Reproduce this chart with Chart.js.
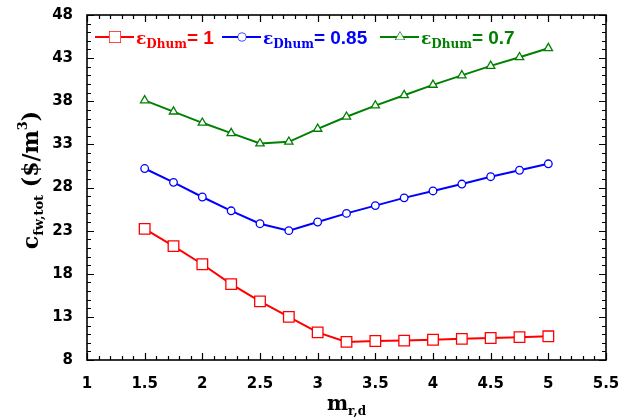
<!DOCTYPE html>
<html>
<head>
<meta charset="utf-8">
<script src="https://cdn.jsdelivr.net/npm/chart.js@4.4.1/dist/chart.umd.min.js"></script>
<style>
  html, body { margin: 0; padding: 0; background: #ffffff; }
  #wrap { width: 634px; height: 420px; }
</style>
</head>
<body>
<div id="wrap"><canvas id="chart" width="634" height="420"></canvas></div>
<script>
// Mass ratio m_r,d on the horizontal axis
const massRatio = [1.5, 1.75, 2.0, 2.25, 2.5, 2.75, 3.0, 3.25, 3.5, 3.75, 4.0, 4.25, 4.5, 4.75, 5.0];

// Total fresh-water cost c_fw,tot ($/m3) for each dehumidifier effectiveness
const costEff100 = [23.2, 21.2, 19.1, 16.8, 14.8, 13.0, 11.2, 10.1, 10.2, 10.25, 10.35, 10.45, 10.55, 10.65, 10.75];
const costEff085 = [30.2, 28.6, 26.9, 25.3, 23.8, 23.0, 24.0, 25.0, 25.9, 26.8, 27.6, 28.4, 29.25, 30.0, 30.75];
const costEff070 = [38.1, 36.8, 35.5, 34.3, 33.1, 33.3, 34.8, 36.2, 37.5, 38.7, 39.9, 41.0, 42.1, 43.1, 44.15];

const seriesLabels = ['1', '0.85', '0.7'];
const seriesColors = ['#ff0000', '#0000ff', '#008000'];
const seriesMarkers = ['rect', 'circle', 'triangle'];
const markerRadius = [7.5, 3.8, 4.8];

// Axis tick labels
const xTickValues = [1, 1.5, 2, 2.5, 3, 3.5, 4, 4.5, 5, 5.5];
const yTickValues = [8, 13, 18, 23, 28, 33, 38, 43, 48];

const seriesValues = [costEff100, costEff085, costEff070];

const datasets = seriesValues.map((vals, i) => ({
  label: seriesLabels[i],
  data: massRatio.map((x, k) => ({ x: x, y: vals[k] })),
  borderColor: seriesColors[i],
  borderWidth: 2,
  pointStyle: seriesMarkers[i],
  pointRadius: markerRadius[i],
  pointHoverRadius: markerRadius[i],
  pointBackgroundColor: '#ffffff',
  pointBorderColor: seriesColors[i],
  pointBorderWidth: 1.3,
  tension: 0,
  fill: false
}));

const tickFont = { family: 'DejaVu Sans', size: 15, weight: 'bold' };

// Frame, inward tick marks, axis titles and the legend
const decorations = {
  id: 'decorations',
  afterDraw(chart) {
    const ctx = chart.ctx;
    const a = chart.chartArea;
    const xs = chart.scales.x;
    const ys = chart.scales.y;
    ctx.save();
    ctx.strokeStyle = '#000000';
    ctx.lineWidth = 1.6;
    ctx.strokeRect(a.left, a.top, a.right - a.left, a.bottom - a.top);

    ctx.lineWidth = 1.2;
    ctx.beginPath();
    for (let i = 10; i <= 55; i++) {
      const px = Math.round(xs.getPixelForValue(i / 10)) + 0.5;
      const len = (i % 5 === 0) ? 7 : 4;
      ctx.moveTo(px, a.bottom); ctx.lineTo(px, a.bottom - len);
      ctx.moveTo(px, a.top); ctx.lineTo(px, a.top + len);
    }
    for (let v = 8; v <= 48; v++) {
      const py = Math.round(ys.getPixelForValue(v)) + 0.5;
      const len = ((v - 8) % 5 === 0) ? 7 : 4;
      ctx.moveTo(a.left, py); ctx.lineTo(a.left + len, py);
      ctx.moveTo(a.right, py); ctx.lineTo(a.right - len, py);
    }
    ctx.stroke();

    // Width and drawing of a run of [text, font, dy] pieces
    function runWidth(parts) {
      let w = 0;
      parts.forEach(p => { ctx.font = p[1]; w += ctx.measureText(p[0]).width; });
      return w;
    }
    function drawRun(parts, x, y, color) {
      ctx.fillStyle = color;
      ctx.textAlign = 'left';
      ctx.textBaseline = 'alphabetic';
      parts.forEach(p => {
        ctx.font = p[1];
        ctx.fillText(p[0], x, y + p[2]);
        x += ctx.measureText(p[0]).width;
      });
      return x;
    }

    const big = 'bold 22px "DejaVu Serif"';
    const small = 'bold 13px "DejaVu Serif"';
    const legSmall = 'bold 12px "DejaVu Serif"';

    // y-axis title
    const yTitle = [['c', big, 0], ['fw,tot', small, 5], [' ($/m', big, 0], ['3', small, -11], [')', big, 0]];
    ctx.save();
    ctx.translate(38, 180);
    ctx.rotate(-Math.PI / 2);
    drawRun(yTitle, -runWidth(yTitle) / 2, 0, '#000000');
    ctx.restore();

    // x-axis title
    const xTitle = [['m', 'bold 20px "DejaVu Serif"', 0], ['r,d', 'bold 12px "DejaVu Serif"', 5]];
    drawRun(xTitle, (a.left + a.right) / 2 - runWidth(xTitle) / 2, 410, '#000000');

    // Legend
    const legendX = [95, 222, 380];
    const legendY = 37;
    seriesLabels.forEach((lab, i) => {
      const x0 = legendX[i];
      ctx.strokeStyle = seriesColors[i];
      ctx.lineWidth = 2;
      ctx.beginPath();
      ctx.moveTo(x0, legendY); ctx.lineTo(x0 + 39, legendY);
      ctx.stroke();
      ctx.fillStyle = '#ffffff';
      ctx.lineWidth = 1.3;
      Chart.helpers.drawPoint(ctx, { pointStyle: seriesMarkers[i], radius: markerRadius[i], rotation: 0, borderWidth: 1.3 }, x0 + 20, legendY);
      ctx.fill();
      const parts = [['\u03b5', 'bold 17px "DejaVu Serif"', 0], ['Dhum', legSmall, 4], ['= ' + lab, 'bold 19px "Liberation Sans"', 0]];
      drawRun(parts, x0 + 41, legendY + 7, seriesColors[i]);
    });
    ctx.restore();
  }
};

new Chart(document.getElementById('chart'), {
  type: 'line',
  data: { datasets: datasets },
  options: {
    responsive: false,
    animation: false,
    devicePixelRatio: 1,
    layout: { padding: { left: 0, top: 13, right: 28, bottom: 0 } },
    plugins: { legend: { display: false }, tooltip: { enabled: false } },
    scales: {
      x: {
        type: 'linear',
        min: 1, max: 5.5,
        afterBuildTicks: s => { s.ticks = xTickValues.map(v => ({ value: v })); },
        afterFit: s => { s.height = 60; },
        grid: { display: false },
        border: { display: false },
        ticks: { font: tickFont, color: '#000000', padding: 7, maxRotation: 0, autoSkip: false,
                 callback: v => String(v) }
      },
      y: {
        type: 'linear',
        min: 8, max: 48,
        afterBuildTicks: s => { s.ticks = yTickValues.map(v => ({ value: v })); },
        afterFit: s => { s.width = 87; },
        grid: { display: false },
        border: { display: false },
        ticks: { font: tickFont, color: '#000000', padding: 6, autoSkip: false,
                 callback: v => String(v) }
      }
    }
  },
  plugins: [decorations]
});
</script>
</body>
</html>
